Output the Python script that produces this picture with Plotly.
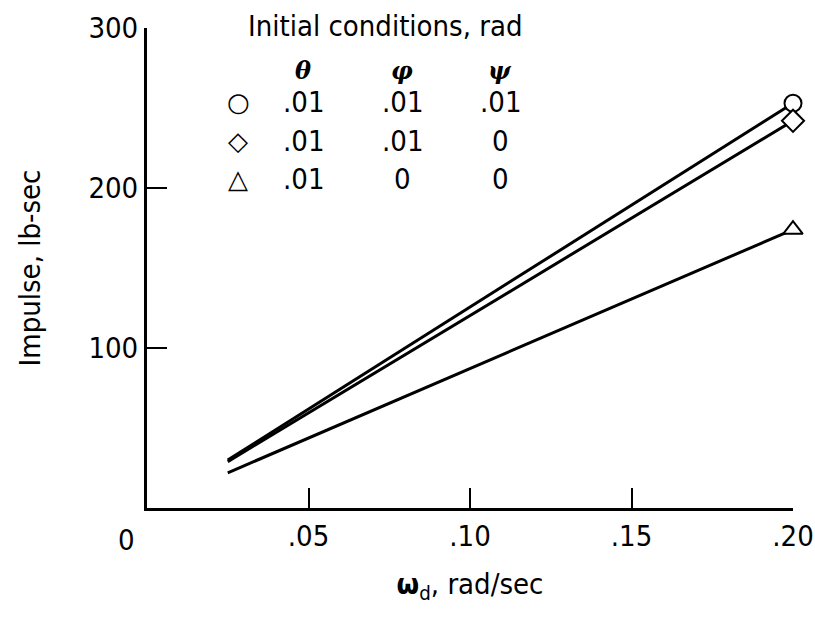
import plotly.graph_objects as go

# Data
omega = [0.025, 0.20]
imp_circle = [30, 253]
imp_diamond = [29, 242]
imp_triangle = [22, 174]
series = [
    ("circle", imp_circle),
    ("diamond", imp_diamond),
    ("triangle-up", imp_triangle),
]
x_ticks = [0.05, 0.10, 0.15, 0.20]
x_ticklabels = [".05", ".10", ".15", ".20"]
y_ticks = [100, 200, 300]
y_ticklabels = ["100", "200", "300"]
legend_title = "Initial conditions, rad"
legend_heads = ["θ", "φ", "ψ"]
legend_rows = [("○", ".01", ".01", ".01"), ("◇", ".01", ".01", "0"), ("△", ".01", "0", "0")]

FONT = "Liberation Sans Narrow, DejaVu Sans Condensed, Arial Narrow, sans-serif"
FS = 29

fig = go.Figure()
for sym, vals in series:
    fig.add_trace(go.Scatter(
        x=omega, y=vals, mode="lines", cliponaxis=False,
        line=dict(color="black", width=3), showlegend=False, hoverinfo="skip"))
for sym, vals in series:
    fig.add_trace(go.Scatter(
        x=[omega[-1]], y=[vals[-1]], mode="markers", cliponaxis=False,
        marker=dict(symbol=sym, size=17, color="white", line=dict(width=2, color="black")),
        showlegend=False, hoverinfo="skip"))

fig.update_layout(
    width=815, height=618,
    margin=dict(l=147, r=22, t=28, b=110, autoexpand=False),
    paper_bgcolor="white", plot_bgcolor="white",
    font=dict(family=FONT, size=FS, color="black"),
    xaxis=dict(range=[0, 0.2], tickvals=x_ticks, ticktext=x_ticklabels,
               ticks="inside", ticklen=20, tickwidth=2, tickcolor="black",
               showline=True, linewidth=3, linecolor="black", automargin=False,
               showgrid=False, zeroline=False, tickfont=dict(size=FS),
               title=dict(text="<b>ω</b><sub>d</sub>, rad/sec", standoff=22, font=dict(size=FS))),
    yaxis=dict(range=[0, 300], tickvals=y_ticks, ticktext=y_ticklabels,
               ticks="inside", ticklen=20, tickwidth=2, tickcolor="black",
               showline=True, linewidth=3, linecolor="black", automargin=False,
               showgrid=False, zeroline=False, tickfont=dict(size=FS),
               title=dict(text="Impulse, lb-sec", standoff=40, font=dict(size=FS))),
)


def px_x(p):
    return (p - 147) / 646.0


def px_y(p):
    return 1 - (p - 28) / 480.0


# origin label
fig.add_annotation(x=px_x(126), y=px_y(540), xref="paper", yref="paper", text="0",
                   showarrow=False, xanchor="center", yanchor="middle", font=dict(size=FS))

# legend block
fig.add_annotation(x=px_x(246), y=px_y(26), xref="paper", yref="paper",
                   text=legend_title, showarrow=False,
                   xanchor="left", yanchor="middle", font=dict(size=FS))
col_x = [303, 402, 500]
for cx, h in zip(col_x, legend_heads):
    fig.add_annotation(x=px_x(cx), y=px_y(70), xref="paper", yref="paper",
                       text="<b><i>" + h + "</i></b>", showarrow=False,
                       xanchor="center", yanchor="middle", font=dict(size=24, family="DejaVu Serif"))
row_y = [102, 141, 179]
for ry, row in zip(row_y, legend_rows):
    fig.add_annotation(x=px_x(238), y=px_y(ry), xref="paper", yref="paper",
                       text=row[0], showarrow=False, xanchor="center", yanchor="middle",
                       font=dict(size=26, family="DejaVu Sans"))
    for cx, t in zip(col_x, row[1:]):
        fig.add_annotation(x=px_x(cx), y=px_y(ry), xref="paper", yref="paper",
                           text=t, showarrow=False, xanchor="center", yanchor="middle",
                           font=dict(size=FS))

fig.write_html("out.html")
